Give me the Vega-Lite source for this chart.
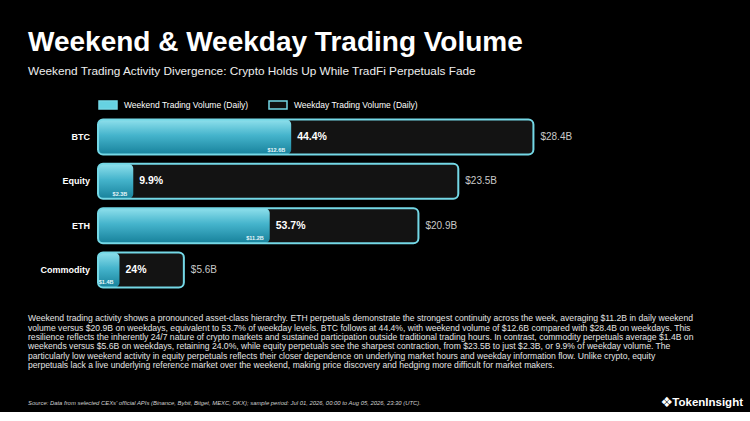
{
  "$schema": "https://vega.github.io/schema/vega-lite/v6.json",
  "background": "#000000",
  "padding": {"left": 28, "top": 29, "right": 7, "bottom": 0},
  "spacing": 0,
  "title": {
    "text": "Weekend & Weekday Trading Volume",
    "subtitle": "Weekend Trading Activity Divergence: Crypto Holds Up While TradFi Perpetuals Fade",
    "anchor": "start",
    "font": "Liberation Sans",
    "fontSize": 28,
    "fontWeight": "bold",
    "color": "#ffffff",
    "subtitleFont": "Liberation Sans",
    "subtitleFontSize": 11.8,
    "subtitleColor": "#eeeeee",
    "subtitlePadding": 9,
    "offset": 16.7
  },
  "config": {
    "view": {"stroke": null},
    "text": {"font": "Liberation Sans"}
  },
  "vconcat": [
    {
      "width": 715,
      "height": 211,
      "data": {
        "values": [
          {"asset": "BTC", "weekend": 12.6, "weekday": 28.4, "share": "44.4%"},
          {"asset": "Equity", "weekend": 2.3, "weekday": 23.5, "share": "9.9%"},
          {"asset": "ETH", "weekend": 11.2, "weekday": 20.9, "share": "53.7%"},
          {"asset": "Commodity", "weekend": 1.4, "weekday": 5.6, "share": "24%"}
        ]
      },
      "encoding": {
        "y": {
          "field": "asset",
          "type": "nominal",
          "axis": null,
          "scale": {"domain": ["BTC", "Equity", "ETH", "Commodity"], "paddingInner": 0.21, "paddingOuter": 0.487}
        }
      },
      "layer": [
        {
          "mark": {"type": "bar", "fill": "#131313", "cornerRadius": 5},
          "encoding": {
            "x": {"field": "weekday", "type": "quantitative", "axis": null, "scale": {"domain": [-4.566, 42.07], "nice": false}},
            "x2": {"datum": 0}
          }
        },
        {
          "mark": {
            "type": "bar",
            "cornerRadius": 5,
            "fill": {
              "gradient": "linear",
              "x1": 0, "y1": 0, "x2": 0, "y2": 1,
              "stops": [
                {"offset": 0, "color": "#8fe0ec"},
                {"offset": 0.45, "color": "#45b4cc"},
                {"offset": 1, "color": "#17819b"}
              ]
            }
          },
          "encoding": {
            "x": {"field": "weekend", "type": "quantitative"},
            "x2": {"datum": 0}
          }
        },
        {
          "mark": {"type": "bar", "fillOpacity": 0, "stroke": "#74d8e6", "strokeWidth": 2, "cornerRadius": 5},
          "encoding": {
            "x": {"field": "weekday", "type": "quantitative"},
            "x2": {"datum": 0}
          }
        },
        {
          "data": {
            "values": [
              {"series": "Weekend Trading Volume (Daily)"},
              {"series": "Weekday Trading Volume (Daily)"}
            ]
          },
          "mark": {"type": "point", "filled": true, "opacity": 0},
          "encoding": {
            "y": null,
            "fill": {
              "field": "series",
              "type": "nominal",
              "scale": {
                "domain": ["Weekend Trading Volume (Daily)", "Weekday Trading Volume (Daily)"],
                "range": ["#66d2e2", "#111111"]
              },
              "legend": {
                "title": null,
                "orient": "none",
                "legendX": 70,
                "legendY": -3.5,
                "direction": "horizontal",
                "symbolType": "M-1,-0.45H1V0.45H-1Z",
                "symbolSize": 324,
                "symbolOpacity": 1,
                "symbolStrokeColor": "#74d8e6",
                "symbolStrokeWidth": 1.5,
                "labelFont": "Liberation Sans",
                "labelFontSize": 8.5,
                "labelColor": "#ffffff",
                "labelOffset": 6,
                "columnPadding": 17
              }
            }
          }
        },
        {
          "mark": {"type": "text", "align": "right", "dx": -8, "fontSize": 9, "fontWeight": "bold", "color": "#ffffff"},
          "encoding": {
            "x": {"datum": 0},
            "text": {"field": "asset"}
          }
        },
        {
          "mark": {"type": "text", "align": "left", "dx": 6, "fontSize": 10.5, "fontWeight": "bold", "color": "#ffffff"},
          "encoding": {
            "x": {"field": "weekend", "type": "quantitative"},
            "text": {"field": "share"}
          }
        },
        {
          "mark": {
            "type": "text",
            "align": "right",
            "dx": -6,
            "dy": 12.5,
            "fontSize": 5.5,
            "fontWeight": "bold",
            "color": "#e6f7fa",
            "text": {"expr": "'$' + format(datum.weekend, '.1f') + 'B'"}
          },
          "encoding": {
            "x": {"field": "weekend", "type": "quantitative"}
          }
        },
        {
          "mark": {
            "type": "text",
            "align": "left",
            "dx": 7,
            "fontSize": 10,
            "color": "#c8c8c8",
            "text": {"expr": "'$' + format(datum.weekday, '.1f') + 'B'"}
          },
          "encoding": {
            "x": {"field": "weekday", "type": "quantitative"}
          }
        }
      ]
    },
    {
      "width": 715,
      "height": 103,
      "data": {
        "values": [
          {"line": 1, "col": 0, "kind": "para", "text": "Weekend trading activity shows a pronounced asset-class hierarchy. ETH perpetuals demonstrate the strongest continuity across the week, averaging $11.2B in daily weekend"},
          {"line": 2, "col": 0, "kind": "para", "text": "volume versus $20.9B on weekdays, equivalent to 53.7% of weekday levels. BTC follows at 44.4%, with weekend volume of $12.6B compared with $28.4B on weekdays. This"},
          {"line": 3, "col": 0, "kind": "para", "text": "resilience reflects the inherently 24/7 nature of crypto markets and sustained participation outside traditional trading hours. In contrast, commodity perpetuals average $1.4B on"},
          {"line": 4, "col": 0, "kind": "para", "text": "weekends versus $5.6B on weekdays, retaining 24.0%, while equity perpetuals see the sharpest contraction, from $23.5B to just $2.3B, or 9.9% of weekday volume. The"},
          {"line": 5, "col": 0, "kind": "para", "text": "particularly low weekend activity in equity perpetuals reflects their closer dependence on underlying market hours and weekday information flow. Unlike crypto, equity"},
          {"line": 6, "col": 0, "kind": "para", "text": "perpetuals lack a live underlying reference market over the weekend, making price discovery and hedging more difficult for market makers."},
          {"line": 10, "col": 0, "kind": "source", "text": "Source: Data from selected CEXs' official APIs (Binance, Bybit, Bitget, MEXC, OKX); sample period: Jul 01, 2026, 00:00 to Aug 05, 2026, 23:30 (UTC)."},
          {"line": 10, "col": 1, "kind": "logo", "text": "TokenInsight"},
          {"line": 10, "col": 1, "kind": "icon", "text": "❖"}
        ]
      },
      "encoding": {
        "x": {"field": "col", "type": "quantitative", "axis": null, "scale": {"domain": [0, 1], "nice": false}},
        "y": {"field": "line", "type": "quantitative", "axis": null, "scale": {"domain": [0, 11], "reverse": true, "nice": false}},
        "text": {"field": "text"}
      },
      "layer": [
        {
          "transform": [{"filter": "datum.kind == 'para'"}],
          "mark": {"type": "text", "align": "left", "baseline": "middle", "fontSize": 8.6, "color": "#e4e4e4"}
        },
        {
          "transform": [{"filter": "datum.kind == 'source'"}],
          "mark": {"type": "text", "align": "left", "baseline": "middle", "fontSize": 5.9, "fontStyle": "italic", "color": "#cfcfcf"}
        },
        {
          "transform": [{"filter": "datum.kind == 'logo'"}],
          "mark": {"type": "text", "align": "right", "baseline": "middle", "fontSize": 11.5, "fontWeight": "bold", "color": "#ffffff"}
        },
        {
          "transform": [{"filter": "datum.kind == 'icon'"}],
          "mark": {"type": "text", "align": "right", "baseline": "middle", "dx": -70, "font": "DejaVu Sans", "fontSize": 14, "color": "#ffffff"}
        }
      ]
    }
  ]
}
